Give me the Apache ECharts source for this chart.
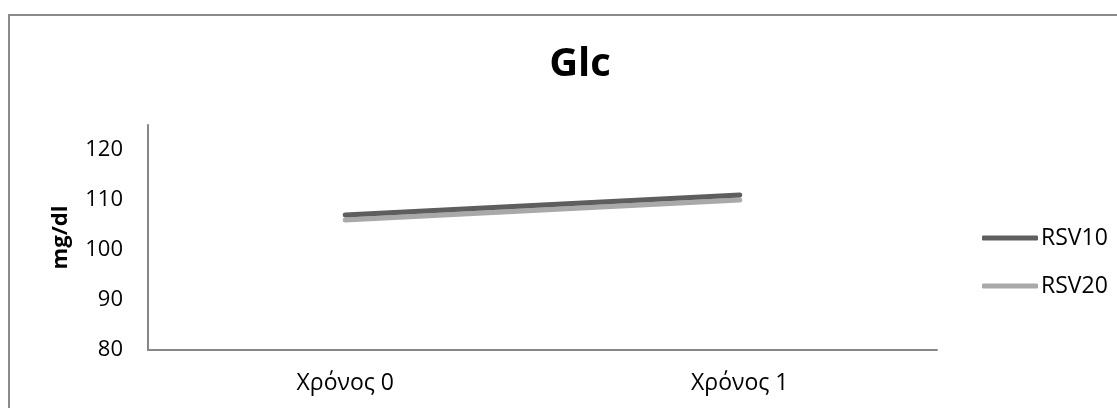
<!DOCTYPE html>
<html>
<head>
<meta charset="utf-8">
<script src="https://cdn.jsdelivr.net/npm/echarts@6/dist/echarts.min.js"></script>
<style>
  html, body { margin: 0; padding: 0; background: #fff; }
  #chart { width: 1117px; height: 408px; }
</style>
</head>
<body>
<div id="chart"></div>
<script>
// Glucose over time for the two groups
const categories = ['Χρόνος 0', 'Χρόνος 1'];
const rsv10 = [107, 111];
const rsv20 = [106, 110];
const seriesNames = ['RSV10', 'RSV20'];

const FONT = '"Open Sans", "DejaVu Sans", sans-serif';
const AXIS_GREY = '#878787';

const chart = echarts.init(document.getElementById('chart'), null, { renderer: 'canvas' });

chart.setOption({
  animation: false,
  backgroundColor: '#ffffff',
  textStyle: { fontFamily: FONT },
  title: {
    text: 'Glc',
    left: 575,
    textAlign: 'center',
    top: 40,
    textStyle: { fontFamily: FONT, fontWeight: 'bold', fontSize: 40, color: '#000' }
  },
  graphic: [{
    type: 'rect',
    shape: { x: 9, y: 15, width: 1200, height: 500 },
    style: { fill: 'none', stroke: '#8a8a8a', lineWidth: 2 },
    silent: true,
    z: -1
  }],
  legend: {
    orient: 'vertical',
    left: 977,
    top: 220,
    itemWidth: 56,
    itemHeight: 5,
    itemGap: 22,
    icon: 'roundRect',
    data: seriesNames,
    textStyle: { fontFamily: FONT, fontSize: 23, lineHeight: 26, color: '#000', padding: [0, 0, 0, -2] }
  },
  grid: { left: 148, right: 180, top: 125, bottom: 58 },
  xAxis: {
    type: 'category',
    data: categories,
    boundaryGap: true,
    axisLine: { lineStyle: { color: AXIS_GREY, width: 2 } },
    axisTick: { show: false },
    axisLabel: { fontFamily: FONT, fontSize: 23, color: '#000', margin: 22 }
  },
  yAxis: {
    type: 'value',
    min: 80,
    max: 125,
    interval: 10,
    name: 'mg/dl',
    nameLocation: 'middle',
    nameGap: 76,
    nameTextStyle: { fontFamily: FONT, fontWeight: 'bold', fontSize: 22, color: '#000' },
    axisLine: { show: true, lineStyle: { color: AXIS_GREY, width: 2 } },
    axisTick: { show: false },
    splitLine: { show: false },
    axisLabel: { fontFamily: FONT, fontSize: 22, color: '#000', margin: 25, showMaxLabel: false }
  },
  series: [
    {
      name: seriesNames[0],
      type: 'line',
      data: rsv10,
      showSymbol: false,
      symbol: 'none',
      color: '#5e5e5e',
      lineStyle: { width: 5, cap: 'round', color: '#5e5e5e' },
      z: 3
    },
    {
      name: seriesNames[1],
      type: 'line',
      data: rsv20,
      showSymbol: false,
      symbol: 'none',
      color: '#a9a9a9',
      lineStyle: { width: 5, cap: 'round', color: '#a9a9a9' },
      z: 2
    }
  ]
});
</script>
</body>
</html>
